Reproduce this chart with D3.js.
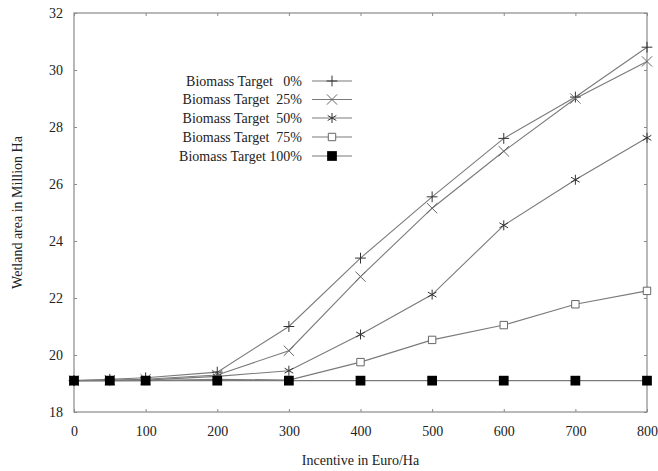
<!DOCTYPE html>
<html>
<head>
<meta charset="utf-8">
<script src="https://cdn.jsdelivr.net/npm/d3@7"></script>
<style>
  html, body { margin: 0; padding: 0; background: #fff; }
  svg text { font-family: "Liberation Serif", "Times New Roman", serif; fill: #222; }
</style>
</head>
<body>
<svg id="chart" width="658" height="471"></svg>
<script>
// Incentive levels (Euro/Ha)
const incentives = [0, 50, 100, 200, 300, 400, 500, 600, 700, 800];

// Wetland area (Million Ha) for each biomass target
const target0   = [19.1, 19.15, 19.2, 19.4, 21.0, 23.4, 25.55, 27.6, 29.05, 30.8];
const target25  = [19.1, 19.12, 19.15, 19.3, 20.15, 22.75, 25.15, 27.15, 29.0, 30.3];
const target50  = [19.1, 19.1, 19.12, 19.25, 19.45, 20.72, 22.12, 24.55, 26.15, 27.62];
const target75  = [19.1, 19.1, 19.1, 19.15, 19.12, 19.75, 20.53, 21.05, 21.78, 22.25];
const target100 = [19.1, 19.1, 19.1, 19.1, 19.1, 19.1, 19.1, 19.1, 19.1, 19.1];

const seriesNames = ["Biomass Target   0%", "Biomass Target  25%", "Biomass Target  50%",
                     "Biomass Target  75%", "Biomass Target 100%"];
const seriesValues = [target0, target25, target50, target75, target100];

const xTicks = [0, 100, 200, 300, 400, 500, 600, 700, 800];
const yTicks = [18, 20, 22, 24, 26, 28, 30, 32];

const xTitle = "Incentive in Euro/Ha";
const yTitle = "Wetland area in Million Ha";

const svg = d3.select("#chart");
const plotLeft = 74, plotRight = 647, plotTop = 13, plotBottom = 412;
const fontSize = 14;

const x = d3.scaleLinear().domain([0, 800]).range([plotLeft, plotRight]);
const y = d3.scaleLinear().domain([18, 32]).range([plotBottom, plotTop]);

const frameColor = "#8a8a8a";
const lineColor = "#7a7a7a";

// frame
svg.append("rect")
  .attr("x", plotLeft).attr("y", plotTop)
  .attr("width", plotRight - plotLeft).attr("height", plotBottom - plotTop)
  .attr("fill", "none").attr("stroke", frameColor).attr("stroke-width", 1.2);

// axes with inward ticks (mirrored on the opposite sides)
function styleAxis(g) {
  g.select(".domain").remove();
  g.selectAll(".tick line").attr("stroke", frameColor);
  g.selectAll(".tick text").attr("font-size", fontSize).attr("fill", "#222")
    .attr("font-family", "Liberation Serif, Times New Roman, serif");
}
svg.append("g").attr("transform", `translate(0,${plotBottom})`)
  .call(d3.axisBottom(x).tickValues(xTicks).tickSize(-3).tickPadding(14).tickFormat(d3.format("d")))
  .call(styleAxis);
svg.append("g").attr("transform", `translate(0,${plotTop})`)
  .call(d3.axisTop(x).tickValues(xTicks).tickSize(-3).tickFormat(""))
  .call(styleAxis);
svg.append("g").attr("transform", `translate(${plotLeft},0)`)
  .call(d3.axisLeft(y).tickValues(yTicks).tickSize(-3).tickPadding(11).tickFormat(d3.format("d")))
  .call(styleAxis);
svg.append("g").attr("transform", `translate(${plotRight},0)`)
  .call(d3.axisRight(y).tickValues(yTicks).tickSize(-3).tickFormat(""))
  .call(styleAxis);

// axis titles
svg.append("text").attr("x", (plotLeft + plotRight) / 2).attr("y", 465)
  .attr("text-anchor", "middle").attr("font-size", fontSize).text(xTitle);
svg.append("text")
  .attr("transform", `translate(22,${(plotTop + plotBottom) / 2}) rotate(-90)`)
  .attr("text-anchor", "middle").attr("font-size", fontSize).text(yTitle);

// marker definitions per series
const markers = [
  { type: d3.symbolPlus,     size: 40,  fill: "none",  stroke: "#333" },
  { type: d3.symbolTimes,    size: 70,  fill: "none",  stroke: "#666" },
  { type: d3.symbolAsterisk, size: 70,  fill: "none",  stroke: "#333" },
  { type: d3.symbolSquare2,  size: 70,  fill: "#fff",  stroke: "#666" },
  { type: d3.symbolSquare,   size: 95,  fill: "#000",  stroke: "none" }
];

const line = d3.line().x((d, i) => x(incentives[i])).y(d => y(d));

seriesValues.forEach((vals) => {
  svg.append("path").datum(vals)
    .attr("d", line).attr("fill", "none")
    .attr("stroke", lineColor).attr("stroke-width", 1.1);
});
seriesValues.forEach((vals, s) => {
  const m = markers[s];
  svg.append("g").selectAll("path").data(vals).join("path")
    .attr("transform", (d, i) => `translate(${x(incentives[i])},${y(d)})`)
    .attr("d", d3.symbol().type(m.type).size(m.size))
    .attr("fill", m.fill).attr("stroke", m.stroke).attr("stroke-width", 1);
});

// legend
const legTextX = 302, legLineX0 = 312, legLineX1 = 352;
const legY = [81, 99.5, 118, 137, 156];
seriesNames.forEach((name, s) => {
  const ly = legY[s];
  svg.append("text").attr("x", legTextX).attr("y", ly + 4.5)
    .attr("text-anchor", "end").attr("font-size", fontSize)
    .style("white-space", "pre").text(name);
  svg.append("line").attr("x1", legLineX0).attr("x2", legLineX1)
    .attr("y1", ly).attr("y2", ly)
    .attr("stroke", lineColor).attr("stroke-width", 1.1);
  const m = markers[s];
  svg.append("path")
    .attr("transform", `translate(${(legLineX0 + legLineX1) / 2},${ly})`)
    .attr("d", d3.symbol().type(m.type).size(m.size))
    .attr("fill", m.fill).attr("stroke", m.stroke).attr("stroke-width", 1);
});
</script>
</body>
</html>
